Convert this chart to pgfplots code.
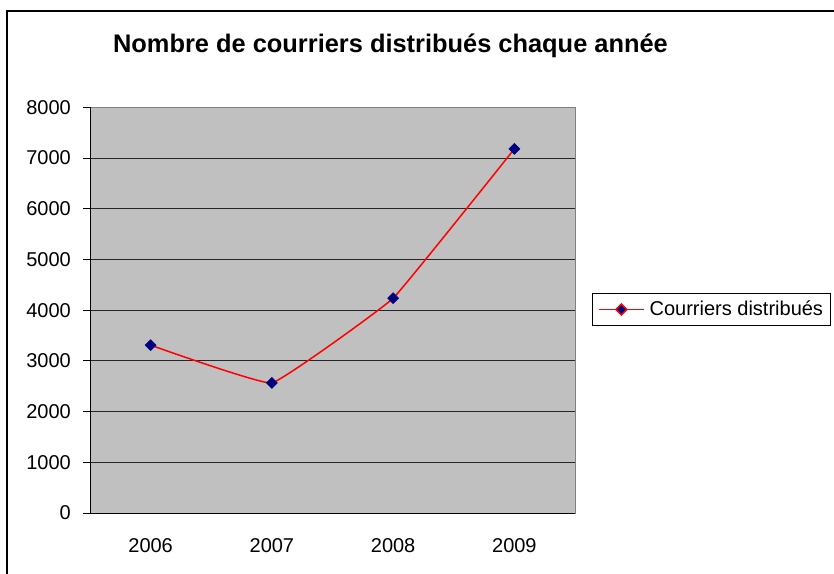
\documentclass[border=0pt]{standalone}
\usepackage{fontspec}
\setmainfont{Liberation Sans}
\usepackage{pgfplots}
\pgfplotsset{compat=1.18}
\definecolor{plotbg}{HTML}{C0C0C0}
\definecolor{navy}{HTML}{000080}
\definecolor{frame}{HTML}{808080}
\begin{document}
\fontsize{20}{24}\selectfont
\begin{tikzpicture}
\useasboundingbox (0,0) rectangle (834pt,573pt);
\fill[white] (0,0) rectangle (834pt,573pt);
\draw[line width=1.3pt] (7pt,-10pt) -- (7pt,562pt) -- (850pt,562pt);
\node[anchor=base, inner sep=0pt, font=\fontsize{25.4}{30}\selectfont\bfseries] at (390.5pt,520pt) {Nombre de courriers distribués chaque année};
\begin{axis}[
  at={(90pt,60pt)}, anchor=south west,
  scale only axis, width=485pt, height=405.7pt,
  xmin=-0.5, xmax=3.5, ymin=0, ymax=8000,
  axis background/.style={fill=plotbg},
  axis line style={draw=frame, line width=1pt},
  tick pos=left, tick align=outside, major tick length=7pt,
  tick style={black, line width=1pt},
  xtick={0,1,2,3}, xticklabels={2006,2007,2008,2009},
  x tick style={draw=none},
  extra x ticks={-0.5,0.5,1.5,2.5,3.5}, extra x tick labels={},
  extra x tick style={tick style={black, line width=1pt}, grid=none},
  ytick={0,1000,...,8000},
  ymajorgrids=true, xmajorgrids=false,
  major grid style={black!85, line width=1pt},
  scaled y ticks=false,
  /pgf/number format/1000 sep={},
  /pgf/number format/assume math mode=true,
  yticklabel style={anchor=east, inner sep=0pt, xshift=-12pt},
  xticklabel style={anchor=north, inner sep=0pt, yshift=-18pt},
  legend style={at={(1.037,0.5016)}, anchor=west, draw=none, fill=white,
    name=leg, inner xsep=5pt, inner ysep=5pt, font=\fontsize{20}{24}\selectfont,
    /tikz/every odd column/.append style={column sep=3pt}},
  legend cell align=left,
  legend image code/.code={
    \draw[draw=red, line width=1.5pt] (0pt,0pt) -- (45pt,0pt);
    \fill[fill=navy] (22.5pt,5.5pt) -- (28pt,0pt) -- (22.5pt,-5.5pt) -- (17pt,0pt) -- cycle;
  },
]
\addplot[red, line width=1.5pt, smooth, tension=0.15,
  mark=square*, mark size=3.9pt,
  mark options={fill=navy, draw=navy, rotate=45, solid, line width=0.5pt}]
  coordinates {(0,3310) (1,2565) (2,4235) (3,7180)};
\addlegendentry{Courriers distribués}
\draw[black, line width=1pt] (rel axis cs:0,0) -- (rel axis cs:0,1);
\draw[black, line width=1pt] (rel axis cs:0,0) -- (rel axis cs:1,0);
\end{axis}
\draw[black, line width=1pt] (leg.south west) rectangle (leg.north east);
\end{tikzpicture}
\end{document}
